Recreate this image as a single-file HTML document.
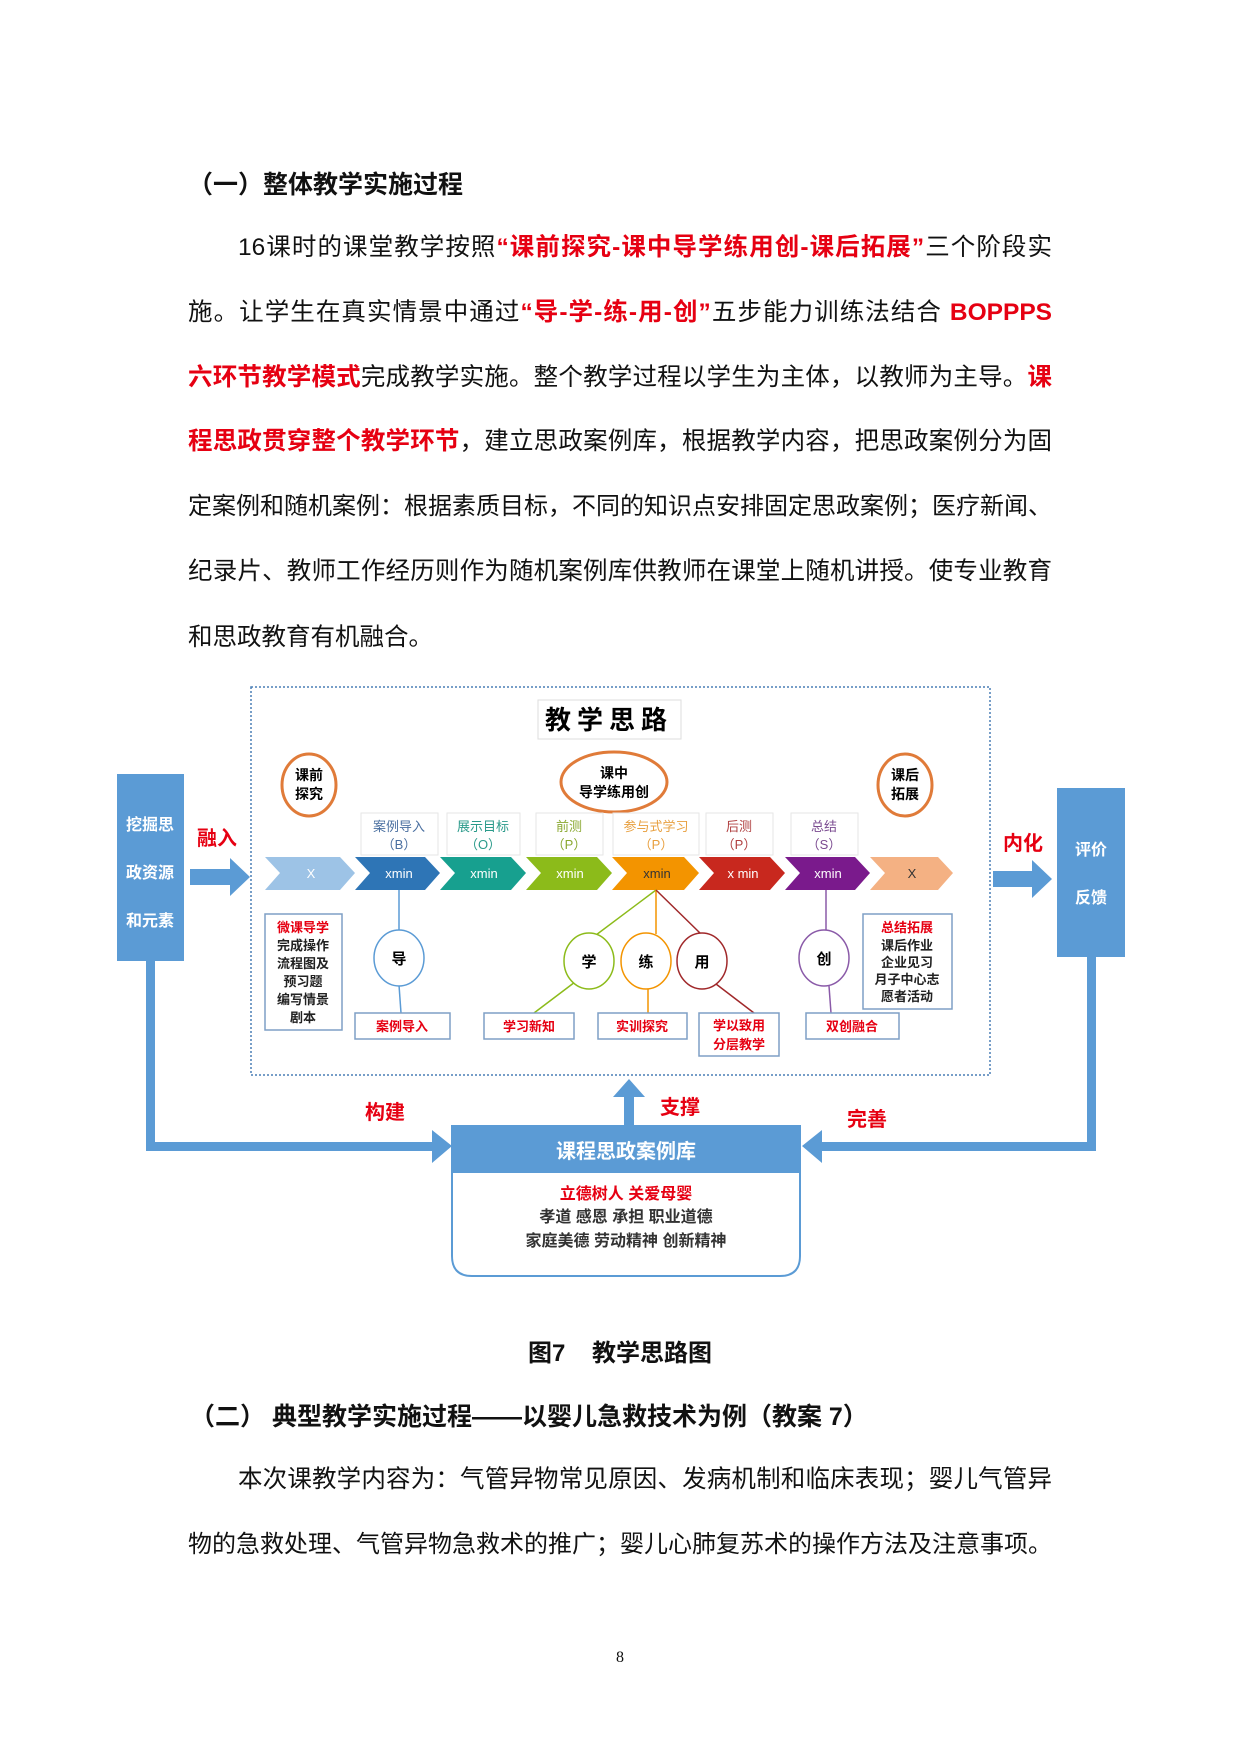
<!DOCTYPE html>
<html><head><meta charset="utf-8"><style>
body{margin:0;width:1240px;height:1753px;background:#fff;position:relative;overflow:hidden;font-family:"Liberation Sans","Noto Sans CJK SC",sans-serif;color:#111}
.t{position:absolute;white-space:nowrap}
.h{font-weight:bold;font-size:25px}
.ln{position:absolute;left:188px;width:864px;font-size:24.5px;text-align:justify;text-align-last:justify;white-space:nowrap;line-height:34px}
.r{color:#e60012;font-weight:bold}
</style></head><body>
<div class="t h" style="left:188px;top:165px">（一）整体教学实施过程</div>
<div class="ln" style="left:238px;width:814px;top:231px">16课时的课堂教学按照<span class="r">“课前探究-课中导学练用创-课后拓展”</span>三个阶段实</div>
<div class="ln" style="top:296px">施。让学生在真实情景中通过<span class="r">“导-学-练-用-创”</span>五步能力训练法结合 <span class="r">BOPPPS</span></div>
<div class="ln" style="top:361px"><span class="r">六环节教学模式</span>完成教学实施。整个教学过程以学生为主体，以教师为主导。<span class="r">课</span></div>
<div class="ln" style="top:425px"><span class="r">程思政贯穿整个教学环节</span>，建立思政案例库，根据教学内容，把思政案例分为固</div>
<div class="ln" style="top:490px;font-size:24px">定案例和随机案例：根据素质目标，不同的知识点安排固定思政案例；医疗新闻、</div>
<div class="ln" style="top:555px">纪录片、教师工作经历则作为随机案例库供教师在课堂上随机讲授。使专业教育</div>
<div class="ln" style="top:621px;text-align-last:left">和思政教育有机融合。</div>

<svg style="position:absolute;left:0;top:0" width="1240" height="1753" font-family="Liberation Sans,Noto Sans CJK SC,sans-serif">
<rect x="251" y="687" width="739" height="388" fill="none" stroke="#4a7fb5" stroke-width="1.5" stroke-dasharray="2,2"/>
<rect x="538" y="700" width="143" height="39" fill="#fff" stroke="#ddd"/>
<text x="609" y="729" font-size="26" font-weight="bold" text-anchor="middle" letter-spacing="6">教学思路</text>
<rect x="117" y="774" width="67" height="187" fill="#5b9bd5"/>
<g fill="#fff" font-size="16" font-weight="bold" text-anchor="middle"><text x="150" y="830">挖掘思</text><text x="150" y="878">政资源</text><text x="150" y="926">和元素</text></g>
<rect x="1057" y="788" width="68" height="169" fill="#5b9bd5"/>
<g fill="#fff" font-size="16" font-weight="bold" text-anchor="middle"><text x="1091" y="855">评价</text><text x="1091" y="903">反馈</text></g>
<g fill="#e60012" font-size="20" font-weight="bold"><text x="197" y="845">融入</text><text x="1003" y="850">内化</text><text x="365" y="1119">构建</text><text x="660" y="1114">支撑</text><text x="847" y="1126">完善</text></g>
<g fill="#5b9bd5"><polygon points="190,869 230,869 230,858 250,877 230,896 230,885 190,885"/><polygon points="993,871 1032,871 1032,860 1052,879 1032,898 1032,887 993,887"/>
<polygon points="146,961 155,961 155,1142 432,1142 432,1130 452,1146 432,1163 432,1151 146,1151"/>
<polygon points="1087,957 1096,957 1096,1151 822,1151 822,1163 802,1146 822,1130 822,1142 1087,1142"/>
<polygon points="624,1125 634,1125 634,1097 645,1097 629,1079 613,1097 624,1097"/></g>
<path d="M452,1126 H800 V1256 Q800,1276 780,1276 H472 Q452,1276 452,1256 Z" fill="#fff" stroke="#5b9bd5" stroke-width="2"/>
<rect x="452" y="1126" width="348" height="47" fill="#5b9bd5"/>
<text x="626" y="1158" fill="#fff" font-size="20" font-weight="bold" text-anchor="middle">课程思政案例库</text>
<g font-size="16" font-weight="bold" text-anchor="middle"><text x="626" y="1199" fill="#e60012">立德树人  关爱母婴</text><text x="626" y="1222" fill="#333">孝道 感恩 承担 职业道德</text><text x="626" y="1246" fill="#333">家庭美德 劳动精神 创新精神</text></g>
<g fill="#fff" stroke="#e07b39" stroke-width="3"><ellipse cx="309" cy="785" rx="27" ry="31"/><ellipse cx="614" cy="782" rx="53" ry="30"/><ellipse cx="905" cy="785" rx="27" ry="31"/></g>
<g font-size="14" font-weight="bold" text-anchor="middle"><text x="309" y="780">课前</text><text x="309" y="799">探究</text><text x="614" y="778">课中</text><text x="614" y="797">导学练用创</text><text x="905" y="780">课后</text><text x="905" y="799">拓展</text></g>
<g fill="#fff" stroke="#e6e6e6"><rect x="361" y="813" width="77" height="42"/><rect x="447" y="813" width="73" height="42"/><rect x="536" y="813" width="67" height="42"/><rect x="613" y="813" width="86" height="42"/><rect x="706" y="813" width="67" height="42"/><rect x="791" y="813" width="67" height="42"/></g>
<g font-size="13" text-anchor="middle">
<text x="399" y="831" fill="#4a6fa0">案例导入</text><text x="399" y="849" fill="#4a6fa0">（B）</text>
<text x="483" y="831" fill="#2a9a8a">展示目标</text><text x="483" y="849" fill="#2a9a8a">（O）</text>
<text x="569" y="831" fill="#8aa830">前测</text><text x="569" y="849" fill="#8aa830">（P）</text>
<text x="656" y="831" fill="#e8a040">参与式学习</text><text x="656" y="849" fill="#e8a040">（P）</text>
<text x="739" y="831" fill="#b04040">后测</text><text x="739" y="849" fill="#b04040">（P）</text>
<text x="824" y="831" fill="#7a4a90">总结</text><text x="824" y="849" fill="#7a4a90">（S）</text></g>
<polygon points="265,857 340,857 355,873 340,890 265,890 280,873" fill="#9dc3e6"/>
<polygon points="355,857 425,857 440,873 425,890 355,890 370,873" fill="#2e75b6"/>
<polygon points="440,857 511,857 526,873 511,890 440,890 455,873" fill="#17a08f"/>
<polygon points="526,857 597,857 612,873 597,890 526,890 541,873" fill="#8cbb1a"/>
<polygon points="612,857 684,857 699,873 684,890 612,890 627,873" fill="#f39400"/>
<polygon points="699,857 770,857 785,873 770,890 699,890 714,873" fill="#c8281e"/>
<polygon points="785,857 855,857 870,873 855,890 785,890 800,873" fill="#7a1a8c"/>
<polygon points="870,857 938,857 953,873 938,890 870,890 885,873" fill="#f4b183"/>
<g fill="#fff" font-size="13" text-anchor="middle"><text x="311" y="878">X</text><text x="399" y="878">xmin</text><text x="484" y="878">xmin</text><text x="570" y="878">xmin</text><text x="657" y="878" fill="#333">xmin</text><text x="743" y="878">x min</text><text x="828" y="878">xmin</text><text x="912" y="878" fill="#333">X</text></g>
<g stroke-width="1.5" fill="none">
<line x1="399" y1="890" x2="399" y2="931" stroke="#5b9bd5"/><line x1="399" y1="985" x2="401" y2="1013" stroke="#5b9bd5"/>
<line x1="656" y1="890" x2="596" y2="935" stroke="#8cbb1a"/><line x1="575" y1="982" x2="534" y2="1013" stroke="#8cbb1a"/>
<line x1="656" y1="890" x2="656" y2="934" stroke="#f39400"/><line x1="648" y1="988" x2="648" y2="1013" stroke="#f39400"/>
<line x1="656" y1="890" x2="701" y2="934" stroke="#a0282a"/><line x1="716" y1="984" x2="754" y2="1013" stroke="#a0282a"/>
<line x1="826" y1="890" x2="826" y2="932" stroke="#8a5aa8"/><line x1="829" y1="986" x2="831" y2="1013" stroke="#8a5aa8"/></g>
<g fill="#fff" stroke-width="1.5"><ellipse cx="399" cy="958" rx="25" ry="28" stroke="#5b9bd5"/><ellipse cx="589" cy="961" rx="25" ry="28" stroke="#8cbb1a"/><ellipse cx="646" cy="961" rx="25" ry="28" stroke="#f39400"/><ellipse cx="702" cy="961" rx="25" ry="28" stroke="#a0282a"/><ellipse cx="824" cy="958" rx="25" ry="28" stroke="#8a5aa8"/></g>
<g font-size="15" font-weight="bold" text-anchor="middle"><text x="399" y="964">导</text><text x="589" y="967">学</text><text x="646" y="967">练</text><text x="702" y="967">用</text><text x="824" y="964">创</text></g>
<g fill="#fff" stroke="#7f9fc5" stroke-width="1.5"><rect x="355" y="1013" width="95" height="26"/><rect x="484" y="1013" width="90" height="26"/><rect x="598" y="1013" width="89" height="26"/><rect x="699" y="1013" width="80" height="43"/><rect x="806" y="1013" width="93" height="26"/><rect x="265" y="914" width="77" height="116"/><rect x="863" y="914" width="89" height="95"/></g>
<g font-size="13" font-weight="bold" text-anchor="middle" fill="#e60012"><text x="402" y="1031">案例导入</text><text x="529" y="1031">学习新知</text><text x="642" y="1031">实训探究</text><text x="739" y="1030">学以致用</text><text x="739" y="1049">分层教学</text><text x="852" y="1031">双创融合</text><text x="303" y="932">微课导学</text><text x="907" y="932">总结拓展</text></g>
<g font-size="13" font-weight="bold" text-anchor="middle" fill="#222"><text x="303" y="950">完成操作</text><text x="303" y="968">流程图及</text><text x="303" y="986">预习题</text><text x="303" y="1004">编写情景</text><text x="303" y="1022">剧本</text>
<text x="907" y="950">课后作业</text><text x="907" y="967">企业见习</text><text x="907" y="984">月子中心志</text><text x="907" y="1001">愿者活动</text></g>
</svg>

<div class="t h" style="left:0;width:1240px;text-align:center;top:1333px;font-size:24px">图7&nbsp;&nbsp;&nbsp;&nbsp;教学思路图</div>
<div class="t h" style="left:190px;top:1397px">（二）&nbsp;典型教学实施过程——以婴儿急救技术为例（教案 7）</div>
<div class="ln" style="left:238px;width:814px;top:1463px">本次课教学内容为：气管异物常见原因、发病机制和临床表现；婴儿气管异</div>
<div class="ln" style="top:1528px;font-size:24px">物的急救处理、气管异物急救术的推广；婴儿心肺复苏术的操作方法及注意事项。</div>
<div class="t" style="left:0;width:1240px;text-align:center;top:1649px;font-family:'Liberation Serif',serif;font-size:16px">8</div>
</body></html>
